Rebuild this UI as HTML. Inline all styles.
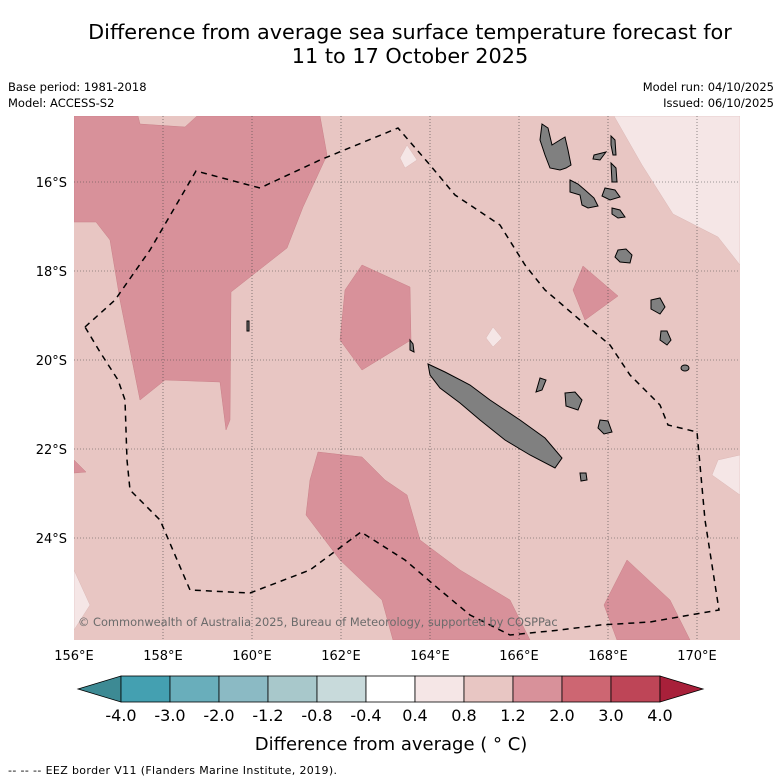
<!DOCTYPE html>
<html><head><meta charset="utf-8"><style>
body{margin:0;background:#fff;width:781px;height:781px;overflow:hidden;font-family:"DejaVu Sans","Liberation Sans",sans-serif}
svg{position:absolute;left:0;top:0;font-family:"DejaVu Sans","Liberation Sans",sans-serif}
</style></head><body>
<svg width="781" height="781" viewBox="0 0 781 781">
<text x="410" y="39" font-size="20.8" text-anchor="middle">Difference from average sea surface temperature forecast for</text>
<text x="410" y="63" font-size="20.8" text-anchor="middle">11 to 17 October 2025</text>
<g font-size="11.5">
<text x="8" y="91">Base period: 1981-2018</text>
<text x="8" y="107">Model: ACCESS-S2</text>
<text x="774" y="91" text-anchor="end">Model run: 04/10/2025</text>
<text x="774" y="107" text-anchor="end">Issued: 06/10/2025</text>
</g>
<defs><clipPath id="mc"><rect x="74" y="116" width="666" height="524"/></clipPath></defs>
<g clip-path="url(#mc)">
<rect x="74" y="116" width="666" height="524" fill="#e8c6c3"/>
<g fill="#d8919a" stroke="#c98088" stroke-width="0.5">
<polygon points="74,116 138,116 140,124 185,127 197,116 320,116 327,155 303,207 287,248 231,292 230,420 226,430 220,382 165,380 140,400 120,300 110,240 96,222 74,222"/>
<polygon points="362,265 410,287 411,340 362,370 340,340 345,290"/>
<polygon points="318,452 362,457 385,480 407,495 420,540 460,570 510,600 530,640 393,640 382,600 340,560 306,515 310,480"/>
<polygon points="583,266 618,296 585,320 573,290"/>
<polygon points="627,560 670,600 690,640 617,640 604,605"/>
<polygon points="74,460 86,472 74,473"/>
</g>
<g fill="#f5e6e6" stroke="#dcb8b6" stroke-width="0.5">
<polygon points="614,116 740,116 740,265 718,237 673,214 642,165"/>
<polygon points="740,455 740,495 712,475 718,460"/>
<polygon points="74,570 90,605 74,630"/>
<polygon points="407,145 417,160 405,168 400,158"/>
<polygon points="493,327 502,338 493,347 486,338"/>
</g>
<g id="grid" stroke="#444" stroke-width="0.6" stroke-dasharray="1,2"></g>
<g fill="#808080" stroke="#000" stroke-width="1">
<polygon points="428,364 445,372 470,385 490,400 520,420 545,438 562,458 555,468 530,455 505,440 480,420 460,403 440,388 430,375"/>
<polygon points="542,124 548,128 552,145 560,140 565,137 568,150 571,165 566,168 560,170 550,168 545,155 540,140"/>
<polygon points="570,180 578,184 585,190 594,198 598,206 588,208 582,205 580,195 570,192"/>
<polygon points="605,188 615,190 620,197 610,200 602,196"/>
<polygon points="594,155 606,152 600,160 593,159"/>
<polygon points="611,136 615,140 616,155 613,155 611,145"/>
<polygon points="611,163 616,168 617,182 612,182"/>
<polygon points="612,208 620,210 625,217 618,218 612,214"/>
<polygon points="618,250 626,249 632,255 630,263 620,262 615,257"/>
<polygon points="651,300 660,298 665,307 660,314 651,309"/>
<polygon points="661,331 667,331 671,340 667,345 660,340"/>
<polygon points="565,393 575,392 582,400 578,410 566,406"/>
<polygon points="600,420 608,421 612,432 604,434 598,428"/>
<polygon points="540,378 546,380 542,390 536,392"/>
<polygon points="580,473 586,473 587,480 581,481"/>
<polygon points="410,340 413,344 414,352 410,350"/>
<polygon points="247,321 249,321 249,331 247,331"/>
<ellipse cx="685" cy="368" rx="4" ry="3"/>
</g>
<polyline fill="none" stroke="#000" stroke-width="1.5" stroke-dasharray="6,5" points="85,327 115,300 150,250 196,171 260,188 320,160 398,128 430,165 455,195 500,225 525,265 545,290 580,320 610,345 630,375 660,405 668,425 697,432 705,520 719,610 650,622 600,625 560,630 510,635 470,615 440,590 405,560 361,532 310,570 250,593 190,590 160,520 130,490 127,460 125,400 118,380 100,352 85,327"/>
<text x="78" y="626" font-size="11.4" fill="#6b6b6b">© Commonwealth of Australia 2025, Bureau of Meteorology, supported by COSPPac</text>
</g>
<g id="axes" font-size="13"></g>
<g id="cbar"></g>
<text x="391" y="750" font-size="18" text-anchor="middle">Difference from average ( ° C)</text>
<text x="8" y="774" font-size="11" textLength="329">--  --  -- EEZ border V11 (Flanders Marine Institute, 2019).</text>
</svg>
<script>
const lonTicks=[156,158,160,162,164,166,168,170];
const latTicks=[16,18,20,22,24];
const cbTicks=["-4.0","-3.0","-2.0","-1.2","-0.8","-0.4","0.4","0.8","1.2","2.0","3.0","4.0"];
const cbColors=["#44a0b1","#69aebb","#8bbac4","#a8c8cb","#c8dadb","#ffffff","#f5e6e6","#e8c6c3","#d8919a","#cd6672","#be4557"];
const NS="http://www.w3.org/2000/svg";
const xLon=l=>74+(l-156)*44.5, yLat=l=>182+(l-16)*44.5;
const grid=document.getElementById('grid'), axes=document.getElementById('axes'), cb=document.getElementById('cbar');
function mk(tag,at,parent){const e=document.createElementNS(NS,tag);for(const k in at)e.setAttribute(k,at[k]);parent.appendChild(e);return e;}
lonTicks.forEach(l=>{
 if(l>156){const g=mk('line',{x1:xLon(l),x2:xLon(l),y1:116,y2:640},grid);
 
 }
 const t=mk('text',{x:xLon(l),y:660,'text-anchor':'middle'},axes);t.textContent=l+'°E';
 
 
});
latTicks.forEach(l=>{
 const g=mk('line',{x1:74,x2:740,y1:yLat(l),y2:yLat(l)},grid);
 
 
 const t=mk('text',{x:67,y:yLat(l)+5,'text-anchor':'end'},axes);t.textContent=l+'°S';
 
 
});
const x0=121,w=49,y0=676,h=26;
const lt=mk('polygon',{points:`${x0},${y0} ${x0},${y0+h} 78,${y0+h/2}`,fill:'#3d8a94',stroke:'#000','stroke-width':0.8},cb);


cbColors.forEach((c,i)=>{
 const r=mk('rect',{x:x0+i*w,y:y0,width:w,height:h,fill:c,stroke:'#000','stroke-width':0.8},cb);
 
 
});
const xe=x0+cbColors.length*w;
const rt=mk('polygon',{points:`${xe},${y0} ${xe},${y0+h} ${xe+43},${y0+h/2}`,fill:'#a8203a',stroke:'#000','stroke-width':0.8},cb);


cbTicks.forEach((s,i)=>{
 const t=mk('text',{x:x0+i*w,y:721,'text-anchor':'middle','font-size':16},cb);t.textContent=s;
 
 
});
</script>
</body></html>
